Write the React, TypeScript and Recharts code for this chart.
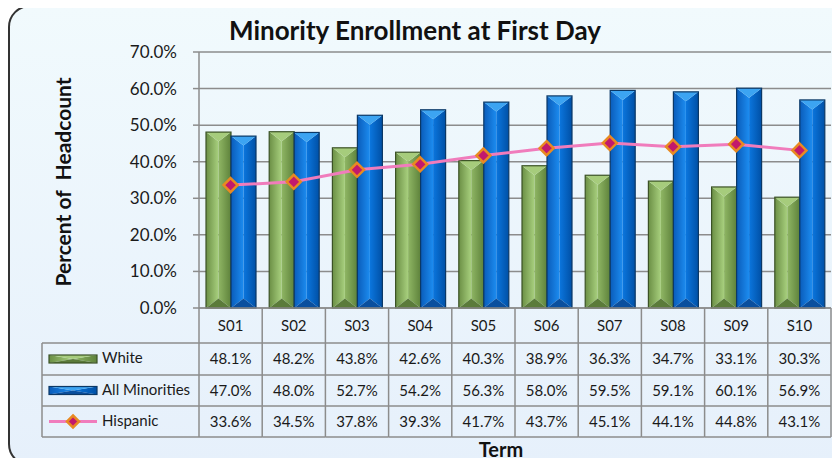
import React from "react";
import {
  ComposedChart,
  Bar,
  Line,
  XAxis,
  YAxis,
  CartesianGrid,
} from "recharts";

const terms = ["S01", "S02", "S03", "S04", "S05", "S06", "S07", "S08", "S09", "S10"];
const white = [48.1, 48.2, 43.8, 42.6, 40.3, 38.9, 36.3, 34.7, 33.1, 30.3];
const minorities = [47.0, 48.0, 52.7, 54.2, 56.3, 58.0, 59.5, 59.1, 60.1, 56.9];
const hispanic = [33.6, 34.5, 37.8, 39.3, 41.7, 43.7, 45.1, 44.1, 44.8, 43.1];
const yTicks = [0, 10, 20, 30, 40, 50, 60, 70];

const data = terms.map((t, i) => ({
  term: t,
  white: white[i],
  minorities: minorities[i],
  hispanic: hispanic[i],
}));

const FONT = "Lato, 'Open Sans', sans-serif";
const GRID = "#8c8c8c";

const W = 840;
const H = 466;
const PLOT_LEFT = 199;
const PLOT_RIGHT = 831;
const BAND = (PLOT_RIGHT - PLOT_LEFT) / terms.length;
const TABLE_LEFT = 42;
const ROW_H = [35, 32, 31, 31];

interface Palette {
  outline: string;
  top: string;
  bottom: string;
  leftA: string;
  leftB: string;
  rightA: string;
  rightB: string;
}

const green: Palette = {
  outline: "#3b5226",
  top: "#a6cc7c",
  bottom: "#5b7b3a",
  leftA: "#6b8f45",
  leftB: "#a8d07e",
  rightA: "#8fb664",
  rightB: "#5e823b",
};

const blue: Palette = {
  outline: "#0b3866",
  top: "#3ca4f2",
  bottom: "#0a4f9e",
  leftA: "#0a5cba",
  leftB: "#1c8cf0",
  rightA: "#0b76de",
  rightB: "#0050a6",
};

function bevel(id: string, p: Palette, x: number, y: number, w: number, h: number) {
  if (!h || h <= 0 || !w) return null;
  const d = Math.min(w * 0.38, h / 2);
  const cx = x + w / 2;
  return (
    <g>
      <polygon
        points={`${x},${y} ${cx},${y + d} ${cx},${y + h - d} ${x},${y + h}`}
        fill={`url(#${id}-l)`}
      />
      <polygon
        points={`${x + w},${y} ${cx},${y + d} ${cx},${y + h - d} ${x + w},${y + h}`}
        fill={`url(#${id}-r)`}
      />
      <polygon points={`${x},${y} ${x + w},${y} ${cx},${y + d}`} fill={p.top} />
      <polygon points={`${x},${y + h} ${x + w},${y + h} ${cx},${y + h - d}`} fill={p.bottom} />
      <rect x={x} y={y} width={w} height={h} fill="none" stroke={p.outline} strokeWidth={1.2} />
    </g>
  );
}

function gradDefs(id: string, p: Palette) {
  return (
    <>
      <linearGradient id={`${id}-l`} x1="0" y1="0" x2="1" y2="0">
        <stop offset="0%" stopColor={p.leftA} />
        <stop offset="100%" stopColor={p.leftB} />
      </linearGradient>
      <linearGradient id={`${id}-r`} x1="0" y1="0" x2="1" y2="0">
        <stop offset="0%" stopColor={p.rightA} />
        <stop offset="100%" stopColor={p.rightB} />
      </linearGradient>
    </>
  );
}

const makeBar = (id: string, p: Palette) => (props: any) =>
  bevel(id, p, props.x, props.y, props.width, props.height);

function Diamond({ cx, cy, r = 7 }: { cx: number; cy: number; r?: number }) {
  return (
    <polygon
      points={`${cx},${cy - r} ${cx + r},${cy} ${cx},${cy + r} ${cx - r},${cy}`}
      fill="#c2196c"
      stroke="#e88a22"
      strokeWidth={2.5}
      strokeLinejoin="miter"
    />
  );
}

const rows = [
  { label: "White", values: white, kind: "green" },
  { label: "All Minorities", values: minorities, kind: "blue" },
  { label: "Hispanic", values: hispanic, kind: "line" },
];

function TableTick(props: any) {
  const { x, y, payload } = props;
  const i = payload.index;
  const left = x - BAND / 2;
  const right = x + BAND / 2;
  const tops: number[] = [];
  let acc = y;
  ROW_H.forEach((h) => {
    tops.push(acc);
    acc += h;
  });
  const bottom = acc;
  const txt = { fontFamily: FONT, fontSize: 15, fill: "#1a1a1a" };
  return (
    <g>
      <line x1={right} y1={y} x2={right} y2={bottom} stroke={GRID} strokeWidth={1.5} />
      {i === 0 && <line x1={left} y1={y} x2={left} y2={bottom} stroke={GRID} strokeWidth={1.5} />}
      {tops.slice(1).map((t, k) => (
        <line key={k} x1={left} y1={t} x2={right} y2={t} stroke={GRID} strokeWidth={1.5} />
      ))}
      <line x1={left} y1={bottom} x2={right} y2={bottom} stroke={GRID} strokeWidth={1.5} />
      <text x={x} y={tops[0] + ROW_H[0] / 2 + 5} textAnchor="middle" {...txt}>
        {payload.value}
      </text>
      {rows.map((r, k) => (
        <text key={k} x={x} y={tops[k + 1] + ROW_H[k + 1] / 2 + 5} textAnchor="middle" {...txt}>
          {r.values[i].toFixed(1)}%
        </text>
      ))}
      {i === 0 && (
        <g>
          <line x1={TABLE_LEFT} y1={tops[1]} x2={TABLE_LEFT} y2={bottom} stroke={GRID} strokeWidth={1.5} />
          {tops.slice(1).map((t, k) => (
            <line key={k} x1={TABLE_LEFT} y1={t} x2={left} y2={t} stroke={GRID} strokeWidth={1.5} />
          ))}
          <line x1={TABLE_LEFT} y1={bottom} x2={left} y2={bottom} stroke={GRID} strokeWidth={1.5} />
          {rows.map((r, k) => {
            const cy = tops[k + 1] + ROW_H[k + 1] / 2;
            return (
              <g key={k}>
                {r.kind === "green" && bevel("gw", green, 49, cy - 4, 48, 8)}
                {r.kind === "blue" && bevel("bm", blue, 49, cy - 4, 48, 8)}
                {r.kind === "line" && (
                  <g>
                    <line x1={49} y1={cy} x2={97} y2={cy} stroke="#f07cbc" strokeWidth={3} />
                    <Diamond cx={73} cy={cy} r={6} />
                  </g>
                )}
                <text x={102} y={cy + 4} {...txt}>
                  {r.label}
                </text>
              </g>
            );
          })}
        </g>
      )}
    </g>
  );
}

export default function App() {
  return (
    <div style={{ position: "relative", width: W, height: H, margin: -8, overflow: "hidden" }}>
      <div
        style={{
          position: "absolute",
          left: 8,
          top: 5,
          width: 840,
          height: 461,
          border: "2px solid #333",
          borderRadius: 22,
          background: "linear-gradient(#f1fafd, #e6f0fb)",
          boxSizing: "border-box",
        }}
      />
      <div
        style={{
          position: "absolute",
          left: 415,
          top: 30,
          transform: "translate(-50%, -50%)",
          fontFamily: FONT,
          fontWeight: 700,
          fontSize: 26,
          whiteSpace: "nowrap",
          color: "#111",
        }}
      >
        Minority Enrollment at First Day
      </div>
      <div
        style={{
          position: "absolute",
          left: 62,
          top: 182,
          transform: "translate(-50%, -50%) rotate(-90deg)",
          fontFamily: FONT,
          fontWeight: 700,
          fontSize: 21,
          whiteSpace: "pre",
          color: "#111",
        }}
      >
        {"Percent of  Headcount"}
      </div>
      <div
        style={{
          position: "absolute",
          left: 501,
          top: 449,
          transform: "translate(-50%, -50%)",
          fontFamily: FONT,
          fontWeight: 700,
          fontSize: 20,
          lineHeight: "22px",
          color: "#111",
        }}
      >
        Term
      </div>
      <div style={{ position: "absolute", left: 0, top: 0 }}>
        <ComposedChart
          width={W}
          height={H}
          data={data}
          margin={{ top: 52, right: W - PLOT_RIGHT, left: PLOT_LEFT - 70, bottom: 0 }}
          barGap={0}
        >
          <defs>
            {gradDefs("gw", green)}
            {gradDefs("bm", blue)}
          </defs>
          <CartesianGrid vertical={false} stroke={GRID} strokeWidth={1.5} />
          <XAxis
            dataKey="term"
            height={H - 308}
            axisLine={{ stroke: GRID, strokeWidth: 1.5 }}
            tickLine={false}
            tickSize={0}
            tickMargin={0}
            interval={0}
            tick={<TableTick />}
          />
          <YAxis
            width={70}
            domain={[0, 70]}
            ticks={yTicks}
            interval={0}
            tickFormatter={(v: number) => `${v.toFixed(1)}%`}
            axisLine={{ stroke: GRID, strokeWidth: 1.5 }}
            tickLine={{ stroke: GRID, strokeWidth: 1.5 }}
            tickSize={6}
            tickMargin={16}
            tick={{ fontFamily: FONT, fontSize: 17, fill: "#1a1a1a" }}
          />
          <Bar dataKey="white" barSize={25} shape={makeBar("gw", green)} isAnimationActive={false} />
          <Bar dataKey="minorities" barSize={25} shape={makeBar("bm", blue)} isAnimationActive={false} />
          <Line
            dataKey="hispanic"
            stroke="#f07cbc"
            strokeWidth={3}
            dot={(p: any) => <Diamond key={p.index} cx={p.cx} cy={p.cy} />}
            activeDot={false}
            isAnimationActive={false}
          />
        </ComposedChart>
      </div>
    </div>
  );
}
